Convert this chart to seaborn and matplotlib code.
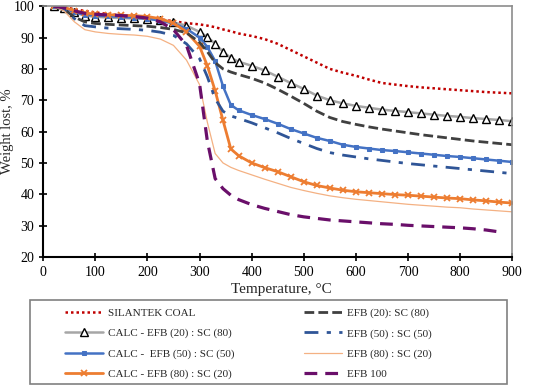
import matplotlib
matplotlib.use("Agg")
import matplotlib.pyplot as plt
from matplotlib.patches import Rectangle
import seaborn as sns
import numpy as np

# temperature grid, degC
temp = [20, 40, 60, 80, 100, 125, 150, 175, 200, 225, 250, 275, 300, 315, 330, 345, 360,
        375, 400, 425, 450, 475, 500, 525, 550, 575, 600, 625, 650, 675, 700, 725, 750,
        775, 800, 825, 850, 875, 900]

silantek = [100, 99.8, 99, 98.5, 98, 97.5, 97, 96.7, 96.3, 95.8, 95.2, 94.6, 94.2, 93.8, 93.3,
            92.6, 92, 91.3, 90.5, 89.5, 88, 86, 84, 82, 80, 78.8, 77.8, 76.6, 75.5, 75, 74.5,
            74.1, 73.8, 73.5, 73.2, 72.9, 72.6, 72.4, 72.2]
calc_20 = [100, 99.5, 98, 97, 96.6, 96.4, 96.2, 96.1, 96, 95.6, 94.8, 93.8, 91.8, 90.2, 88,
           85.5, 83.5, 82.3, 81, 79.5, 77.5, 75.5, 73.6, 71.5, 70, 69, 68.2, 67.6, 67, 66.6,
           66.2, 65.8, 65.4, 65, 64.7, 64.3, 64, 63.7, 63.3]
efb_20 = [100, 99, 96.5, 95, 94.5, 94.2, 94, 93.8, 93.6, 93.2, 92.6, 91.5, 88.5, 85.5, 82, 80,
          79, 78.2, 77, 75.5, 73.5, 71.3, 69, 66.5, 64.5, 63.2, 62.3, 61.5, 60.8, 60.2, 59.6,
          59, 58.5, 58, 57.5, 57, 56.6, 56.2, 55.8]
calc_50 = [100, 99.5, 98, 97.3, 97, 96.8, 96.6, 96.3, 96, 95.4, 94.5, 92.8, 90, 87, 82.5, 74.5,
           68.5, 66.8, 65.3, 64, 62.5, 60.8, 59.4, 58, 57, 55.8, 55.1, 54.6, 54.1, 53.8, 53.4,
           53, 52.6, 52.2, 51.9, 51.5, 51.1, 50.7, 50.3]
efb_50 = [100, 99, 96, 93.8, 93.4, 93, 92.8, 92.6, 92.3, 91.7, 90.7, 88, 83.3, 77.5, 70.5,
          66.5, 65, 64.2, 62.8, 61.2, 59.6, 57.8, 56.2, 54.6, 53.3, 52.5, 51.9, 51.3, 50.8,
          50.3, 49.8, 49.4, 49, 48.6, 48.2, 47.8, 47.4, 47, 46.6]
calc_80 = [100, 99.7, 98.5, 97.8, 97.5, 97.3, 97.1, 97, 96.7, 96, 94.6, 91.8, 87.2, 81, 73,
           63.6, 54.5, 52.3, 50, 48.5, 47.2, 45.6, 44, 42.8, 42, 41.3, 40.8, 40.5, 40.2, 39.9,
           39.7, 39.4, 39.1, 38.8, 38.6, 38.2, 37.9, 37.5, 37.2]
efb_80 = [100, 98.5, 95, 92.5, 91.8, 91.3, 91, 90.8, 90.4, 89.5, 87.5, 82.8, 75, 63, 53, 50,
          48.6, 47.6, 46.2, 44.8, 43.5, 42.2, 41.2, 40.3, 39.5, 38.9, 38.4, 38, 37.6, 37.2,
          36.8, 36.5, 36.2, 35.9, 35.7, 35.3, 35, 34.7, 34.4]
efb_100 = [100, 99.5, 98.5, 97.7, 97.4, 97.2, 97, 96.7, 96.2, 95, 92.5, 87.5, 75.3, 57, 45,
           41.8, 39.7, 38.3, 36.7, 35.5, 34.5, 33.5, 32.8, 32.3, 31.8, 31.5, 31.2, 30.9, 30.6,
           30.4, 30.1, 29.9, 29.7, 29.5, 29.3, 29, 28.6, 28, np.nan]

sns.set_style("white")
plt.rcParams['font.family'] = ['Liberation Serif', 'DejaVu Serif']

fig = plt.figure(figsize=(5.33, 3.87), dpi=100)
ax = fig.add_axes([0.081, 0.336, 0.880, 0.648])

# column 1 of the legend
sns.lineplot(x=temp, y=silantek, ax=ax, color='#C00000', linestyle=(0, (1, 1.2)),
             linewidth=1.8, label='SILANTEK COAL')
sns.lineplot(x=temp, y=calc_20, ax=ax, color='#A6A6A6', linewidth=1.8, marker='^',
             markersize=6, markerfacecolor='white', markeredgecolor='black',
             markeredgewidth=1.0, label='CALC - EFB (20) : SC (80)')
sns.lineplot(x=temp, y=calc_50, ax=ax, color='#4472C4', linewidth=1.8, marker='s',
             markersize=3.5, markeredgecolor='#4472C4', label='CALC -  EFB (50) : SC (50)')
sns.lineplot(x=temp, y=calc_80, ax=ax, color='#ED7D31', linewidth=2.0, marker='x',
             markersize=5, markeredgecolor='#ED7D31', markeredgewidth=1.3,
             label='CALC - EFB (80) : SC (20)')
# column 2
sns.lineplot(x=temp, y=efb_20, ax=ax, color='#404040', linestyle=(0, (3.5, 1.5)),
             linewidth=2.0, label='EFB (20): SC (80)')
sns.lineplot(x=temp, y=efb_50, ax=ax, color='#2F5597', linestyle=(0, (5, 3, 1.5, 3)),
             linewidth=2.0, label='EFB (50) : SC (50)')
sns.lineplot(x=temp, y=efb_80, ax=ax, color='#F4B183', linewidth=0.9,
             label='EFB (80) : SC (20)')
sns.lineplot(x=temp, y=efb_100, ax=ax, color='#6A0F6A', linestyle=(0, (4, 2.5)),
             linewidth=2.3, label='EFB 100')

ax.set_xlim(0, 900)
ax.set_ylim(20, 100)
ax.set_xticks(range(0, 901, 100))
ax.set_yticks(range(20, 101, 10))
ax.tick_params(axis='both', direction='inout', length=6, width=1.2, labelsize=10,
               colors='black', bottom=True, left=True)
ax.set_xlabel('Temperature, °C', fontsize=11)
ax.set_ylabel('Weight lost, %', fontsize=10.5)
ax.yaxis.set_label_coords(-0.062, 0.5)
ax.xaxis.set_label_coords(0.508, -0.104)

for side in ['left', 'bottom']:
    ax.spines[side].set_color('black')
    ax.spines[side].set_linewidth(1.5)
for side in ['top', 'right']:
    ax.spines[side].set_color('#8C8C8C')
    ax.spines[side].set_linewidth(1.2)

handles, labels = ax.get_legend_handles_labels()
ax.legend_.remove()

# legend frame drawn separately so the entries can sit where they do in the original
fig.patches.append(Rectangle((30 / 533, 0.008), 477 / 533, 0.217, transform=fig.transFigure,
                             fill=False, edgecolor='#808080', linewidth=1.2))
fig.legend(handles, labels, ncol=2, loc='upper left', bbox_to_anchor=(0.122, 0.204),
           fontsize=8, frameon=False, handlelength=3.4, handletextpad=0.45,
           borderaxespad=0, borderpad=0, labelspacing=0.94, columnspacing=6.3)

fig.savefig('out.png', dpi=100)
